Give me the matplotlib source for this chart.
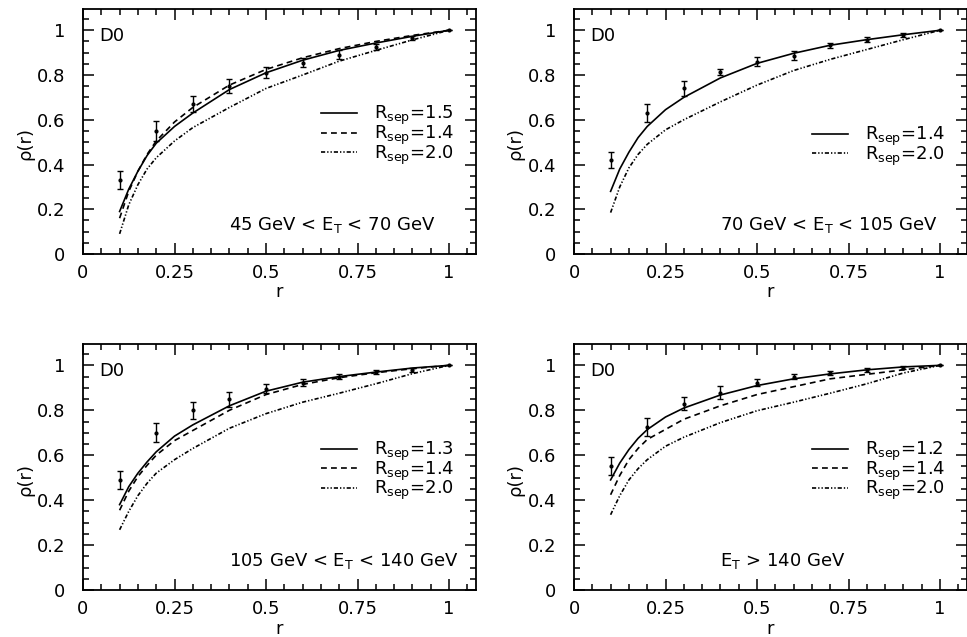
import matplotlib
matplotlib.use("Agg")
import matplotlib.pyplot as plt
from matplotlib.ticker import MultipleLocator, FixedLocator

# r grid for the model curves, and r of the measured points
r_curve = [0.1, 0.125, 0.15, 0.175, 0.2, 0.25, 0.3, 0.4, 0.5, 0.6, 0.7, 0.8, 0.9, 1.0]
r_data = [0.1, 0.2, 0.3, 0.4, 0.5, 0.6, 0.7, 0.8, 0.9, 1.0]

# 45 GeV < ET < 70 GeV
tl_data = [0.33, 0.55, 0.67, 0.75, 0.81, 0.855, 0.89, 0.925, 0.965, 1.0]
tl_err = [0.04, 0.043, 0.037, 0.03, 0.025, 0.02, 0.02, 0.013, 0.01, 0.0]
tl_sep15 = [0.19, 0.29, 0.37, 0.44, 0.495, 0.57, 0.63, 0.735, 0.81, 0.866, 0.91, 0.943, 0.973, 1.0]
tl_sep14 = [0.16, 0.28, 0.37, 0.445, 0.505, 0.59, 0.655, 0.755, 0.825, 0.877, 0.918, 0.95, 0.977, 1.0]
tl_sep20 = [0.09, 0.22, 0.31, 0.38, 0.43, 0.505, 0.565, 0.655, 0.74, 0.80, 0.862, 0.91, 0.957, 1.0]

# 70 GeV < ET < 105 GeV
tr_data = [0.42, 0.63, 0.74, 0.814, 0.859, 0.886, 0.933, 0.958, 0.98, 1.0]
tr_err = [0.035, 0.04, 0.035, 0.015, 0.02, 0.02, 0.012, 0.01, 0.008, 0.0]
tr_sep14 = [0.28, 0.38, 0.455, 0.52, 0.57, 0.645, 0.70, 0.787, 0.852, 0.897, 0.933, 0.958, 0.98, 1.0]
tr_sep20 = [0.185, 0.30, 0.385, 0.445, 0.49, 0.555, 0.60, 0.68, 0.755, 0.82, 0.87, 0.914, 0.958, 1.0]

# 105 GeV < ET < 140 GeV
bl_data = [0.49, 0.70, 0.80, 0.848, 0.896, 0.923, 0.95, 0.97, 0.98, 1.0]
bl_err = [0.04, 0.043, 0.037, 0.035, 0.02, 0.015, 0.01, 0.01, 0.01, 0.0]
bl_sep13 = [0.38, 0.46, 0.52, 0.57, 0.615, 0.685, 0.735, 0.82, 0.885, 0.925, 0.95, 0.97, 0.988, 1.0]
bl_sep14 = [0.355, 0.44, 0.505, 0.555, 0.60, 0.665, 0.71, 0.80, 0.87, 0.915, 0.945, 0.967, 0.985, 1.0]
bl_sep20 = [0.268, 0.35, 0.42, 0.475, 0.52, 0.58, 0.63, 0.72, 0.785, 0.836, 0.876, 0.918, 0.963, 1.0]

# ET > 140 GeV
br_data = [0.55, 0.726, 0.83, 0.878, 0.923, 0.95, 0.965, 0.98, 0.99, 1.0]
br_err = [0.04, 0.04, 0.03, 0.03, 0.015, 0.01, 0.01, 0.008, 0.006, 0.0]
br_sep12 = [0.49, 0.565, 0.625, 0.675, 0.714, 0.77, 0.81, 0.868, 0.91, 0.94, 0.962, 0.98, 0.993, 1.0]
br_sep14 = [0.424, 0.51, 0.58, 0.63, 0.67, 0.715, 0.76, 0.82, 0.87, 0.905, 0.94, 0.96, 0.98, 1.0]
br_sep20 = [0.335, 0.42, 0.49, 0.54, 0.58, 0.64, 0.68, 0.745, 0.798, 0.836, 0.876, 0.918, 0.966, 1.0]

bin_labels = [
    r"45 GeV < E$_{\rm T}$ < 70 GeV",
    r"70 GeV < E$_{\rm T}$ < 105 GeV",
    r"105 GeV < E$_{\rm T}$ < 140 GeV",
    r"E$_{\rm T}$ > 140 GeV",
]

STYLES = {
    "solid": "-",
    "dashed": (0, (3.5, 2.5)),
    "dashdot": (0, (2.5, 1.2, 0.8, 1.2, 0.8, 1.2)),
}

plt.rcParams["font.family"] = "DejaVu Sans"
plt.rcParams["font.size"] = 13

fig = plt.figure(figsize=(9.67, 6.37), dpi=100)
W, H = 967.0, 637.0


def make_axes(left_px, bottom_px, top_px):
    width_px = 393.0
    return fig.add_axes([left_px / W, 1 - bottom_px / H, width_px / W, (bottom_px - top_px) / H])


def style_axes(ax):
    ax.set_xlim(0, 1.0736)
    ax.set_ylim(0, 1.095)
    ax.xaxis.set_major_locator(FixedLocator([0, 0.25, 0.5, 0.75, 1.0]))
    ax.xaxis.set_minor_locator(MultipleLocator(0.05))
    ax.yaxis.set_major_locator(FixedLocator([0, 0.2, 0.4, 0.6, 0.8, 1.0]))
    ax.yaxis.set_minor_locator(MultipleLocator(0.05))
    ax.set_xticklabels(["0", "0.25", "0.5", "0.75", "1"])
    ax.set_yticklabels(["0", "0.2", "0.4", "0.6", "0.8", "1"])
    ax.tick_params(which="both", direction="in", top=True, right=True, width=1.1, colors="black")
    ax.tick_params(which="major", length=8)
    ax.tick_params(which="minor", length=4)
    ax.tick_params(axis="x", which="major", pad=7)
    ax.tick_params(axis="y", which="major", pad=13)
    for s in ax.spines.values():
        s.set_linewidth(1.3)
    ax.set_xlabel("r")
    ax.xaxis.set_label_coords(0.5, -0.12)
    ax.set_ylabel("ρ(r)")
    ax.yaxis.set_label_coords(-0.125, 0.45)
    ax.text(0.045, 0.973, "D0", va="center", ha="left")


def draw_panel(ax, data, err, curves, label):
    style_axes(ax)
    ax.errorbar(r_data, data, yerr=err, fmt="o", ms=2, color="black",
                ecolor="black", elinewidth=1.0, capsize=2.5, capthick=1.0)
    handles = []
    for vals, name, sep in curves:
        (ln,) = ax.plot(r_curve, vals, color="black", lw=1.2, linestyle=STYLES[name],
                        label=r"R$_{\rm sep}$=" + sep)
        handles.append(ln)
    if len(handles) == 3:
        anchor_y = 0.53
    else:
        anchor_y = 0.482
    ax.legend(handles=handles, loc="center left", bbox_to_anchor=(0.65, anchor_y),
              bbox_transform=ax.transData, frameon=False, borderpad=0, borderaxespad=0,
              handlelength=2.0, handletextpad=0.95, labelspacing=-0.2, fontsize=13)
    ax.text(0.40, 0.13, label, va="center", ha="left")


ax_tl = make_axes(83, 254, 9)
ax_tr = make_axes(574, 254, 9)
ax_bl = make_axes(83, 590, 344)
ax_br = make_axes(574, 590, 344)

draw_panel(ax_tl, tl_data, tl_err,
           [(tl_sep15, "solid", "1.5"), (tl_sep14, "dashed", "1.4"), (tl_sep20, "dashdot", "2.0")],
           bin_labels[0])
draw_panel(ax_tr, tr_data, tr_err,
           [(tr_sep14, "solid", "1.4"), (tr_sep20, "dashdot", "2.0")],
           bin_labels[1])
draw_panel(ax_bl, bl_data, bl_err,
           [(bl_sep13, "solid", "1.3"), (bl_sep14, "dashed", "1.4"), (bl_sep20, "dashdot", "2.0")],
           bin_labels[2])
draw_panel(ax_br, br_data, br_err,
           [(br_sep12, "solid", "1.2"), (br_sep14, "dashed", "1.4"), (br_sep20, "dashdot", "2.0")],
           bin_labels[3])

fig.savefig("out.png", dpi=100)
